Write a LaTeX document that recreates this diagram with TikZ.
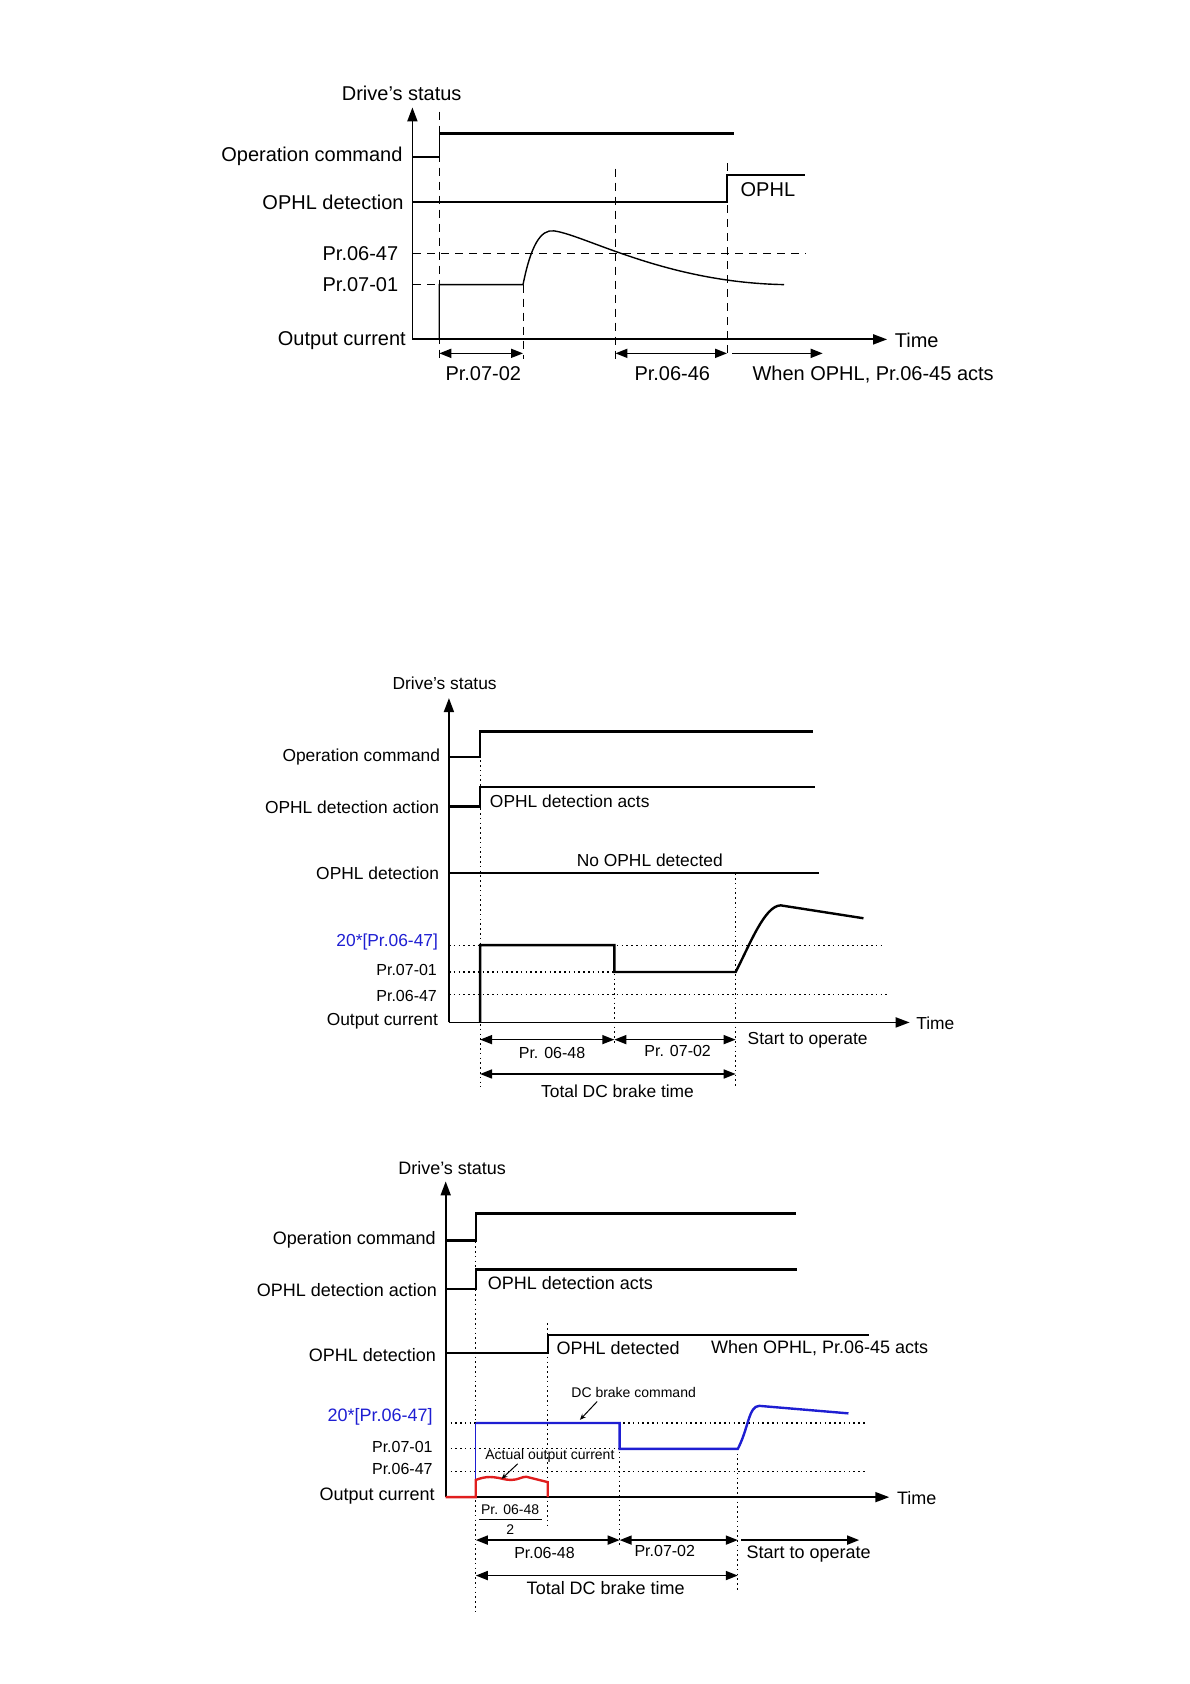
\documentclass[tikz,border=0pt]{standalone}
\usepackage{fontspec}
\setmainfont{Liberation Sans}
\usetikzlibrary{arrows.meta}
\definecolor{ophlBlue}{HTML}{1E1ED2}
\definecolor{ophlRed}{HTML}{E01E1E}

\begin{document}
\begin{tikzpicture}[
    x=0.5373pt, y=-0.5373pt,
    font=\fontsize{10}{12}\selectfont,
    axis/.style={line width=0.9pt, -{Triangle[length=7pt,width=5pt]}},
    lvl/.style={line width=0.7pt},
    sig/.style={line width=1.2pt},
    dashguide/.style={line width=0.5pt, dash pattern=on 4pt off 3pt},
    dotguide/.style={line width=0.5pt, dash pattern=on 0.8pt off 1.6pt},
    span/.style={line width=0.8pt, {Triangle[length=6pt,width=4.5pt]}-{Triangle[length=6pt,width=4.5pt]}},
    fwd/.style={line width=0.8pt, -{Triangle[length=6pt,width=4.5pt]}},
    lead/.style={line width=0.5pt, -{Stealth[length=3pt,width=2.5pt]}},
    lbl/.style={anchor=east, inner sep=1pt},
    txt/.style={inner sep=1pt},
    small/.style={font=\fontsize{8}{9.6}\selectfont},
    tiny/.style={font=\fontsize{7}{8.4}\selectfont},
  ]
  \useasboundingbox (0,0) rectangle (1108,1568);

  % ---------- chart 1 ----------
  \node[txt] (st1) at (374,87) {Drive’s status};
  \draw[axis] (384,316) -- (384,100);
  \draw[axis] (384,316) -- (826,316);
  \node[txt, anchor=west] (time1) at (831,317) {Time};
  \node[lbl] (cmd1) at (377,146) {Operation command};
  \node[lbl] (det1) at (378,188) {OPHL detection};
  \node[lbl] (p647a) at (373,236) {Pr.06-47};
  \node[lbl] (p701a) at (373,265) {Pr.07-01};
  \node[lbl] (out1) at (380,317) {Output current};
  \draw[dashguide] (409,104) -- (409,334);
  \draw[dashguide] (487,265) -- (487,334);
  \draw[dashguide] (573,157) -- (573,334);
  \draw[dashguide] (677,152) -- (677,334);
  \draw[dashguide] (385,236) -- (750,236);
  \draw[dashguide] (385,265) -- (409,265);
  \draw[lvl] (384,146) -- (409,146) -- (409,124);
  \draw[line width=1.4pt] (409,124) -- (683,124);
  \draw[lvl] (384,188) -- (677,188) -- (677,163) -- (750,163);
  \node[txt] (ophl1) at (715,177) {OPHL};
  \draw[lvl] (409,316) -- (409,265) -- (487,265)
    .. controls (494,230) and (503,213) .. (516,215)
    .. controls (545,219) and (620,263) .. (730,265);
  \coordinate (a1) at (409,329);
  \coordinate (a2) at (487,329);
  \coordinate (a3) at (573,329);
  \coordinate (a4) at (677,329);
  \coordinate (a5) at (682,329);
  \coordinate (a6) at (766,329);
  \draw[span] (a1) -- (a2);
  \draw[span] (a3) -- (a4);
  \draw[fwd] (a5) -- (a6);
  \node[txt] (d1) at (450,348) {Pr.07-02};
  \node[txt] (d2) at (626,348) {Pr.06-46};
  \node[txt] (d3) at (813,349) {When OPHL, Pr.06-45 acts};

  % ---------- chart 2 ----------
  \begin{scope}[font=\fontsize{8.7}{10.4}\selectfont]
  \node[txt] (st2) at (414,636) {Drive’s status};
  \draw[axis] (418,952) -- (418,650);
  \draw[axis] (418,952) -- (847,952);
  \node[txt, anchor=west] (time2) at (851,953) {Time};
  \node[lbl] (cmd2) at (412,705) {Operation command};
  \node[lbl] (act2) at (411,752) {OPHL detection action};
  \node[lbl] (det2) at (411,813) {OPHL detection};
  \node[lbl, text=ophlBlue] (k2) at (410,877) {20*[Pr.06-47]};
  \node[lbl, small] (p701b) at (409,903) {Pr.07-01};
  \node[lbl, small] (p647b) at (409,927) {Pr.06-47};
  \node[lbl] (out2) at (410,951) {Output current};
  \draw[dotguide] (447,690) -- (447,1012);
  \draw[dotguide] (572,880) -- (572,972);
  \draw[dotguide] (685,813) -- (685,1012);
  \draw[dotguide] (418,880) -- (823,880);
  \draw[dotguide, line width=0.9pt] (418,905) -- (572,905);
  \draw[dotguide] (418,926) -- (826,926);
  \draw[sig] (418,705) -- (447,705) -- (447,681) -- (757,681);
  \draw[sig] (418,751) -- (447,751) -- (447,733) -- (759,733);
  \draw[sig] (418,813) -- (763,813);
  \node[txt, anchor=west] (acts2) at (454,746) {OPHL detection acts};
  \node[txt] (none2) at (605,801) {No OPHL detected};
  \draw[sig] (447,952) -- (447,880) -- (572,880) -- (572,905) -- (685,905)
    .. controls (698,880) and (712,843) .. (727,843) -- (804,855);
  \coordinate (b1) at (447,968);
  \coordinate (b2) at (572,968);
  \coordinate (b3) at (685,968);
  \coordinate (b4) at (447,1000);
  \coordinate (b5) at (685,1000);
  \draw[span] (b1) -- (b2);
  \draw[span] (b2) -- (b3);
  \draw[span] (b4) -- (b5);
  \node[txt, small] (e1) at (514,980) {Pr. 06-48};
  \node[txt, small] (e2) at (631,979) {Pr. 07-02};
  \node[txt, anchor=west] (go2) at (694,969) {Start to operate};
  \node[txt] (tot2) at (575,1016) {Total DC brake time};
  \end{scope}

  % ---------- chart 3 ----------
  \begin{scope}[font=\fontsize{9}{10.8}\selectfont]
  \node[txt] (st3) at (421,1088) {Drive’s status};
  \draw[axis] (415,1394) -- (415,1100);
  \draw[axis] (415,1394) -- (828,1394);
  \node[txt, anchor=west] (time3) at (833,1395) {Time};
  \node[lbl] (cmd3) at (408,1154) {Operation command};
  \node[lbl] (act3) at (409,1201) {OPHL detection action};
  \node[lbl] (det3) at (408,1262) {OPHL detection};
  \node[lbl, text=ophlBlue] (k3) at (405,1319) {20*[Pr.06-47]};
  \node[lbl, small] (p701c) at (405,1347) {Pr.07-01};
  \node[lbl, small] (p647c) at (405,1368) {Pr.06-47};
  \node[lbl] (out3) at (407,1393) {Output current};
  \draw[dotguide] (443,1138) -- (443,1500);
  \draw[dotguide] (510,1232) -- (510,1420);
  \draw[dotguide] (577,1325) -- (577,1440);
  \draw[dotguide] (687,1349) -- (687,1480);
  \draw[dotguide, line width=0.9pt] (415,1325) -- (805,1325);
  \draw[dotguide] (415,1349) -- (582,1349);
  \draw[dotguide] (415,1370) -- (808,1370);
  \draw[sig] (415,1155) -- (443,1155) -- (443,1130) -- (741,1130);
  \draw[sig] (415,1200) -- (443,1200) -- (443,1182) -- (742,1182);
  \draw[sig] (415,1260) -- (510,1260) -- (510,1243) -- (809,1243);
  \node[txt, anchor=west] (acts3) at (452,1195) {OPHL detection acts};
  \node[txt, anchor=west] (seen3) at (516,1255) {OPHL detected};
  \node[txt, anchor=west] (when3) at (660,1255) {When OPHL, Pr.06-45 acts};
  \draw[line width=0.7pt, ophlBlue] (443,1378) -- (443,1325);
  \draw[sig, ophlBlue] (443,1325) -- (577,1325) -- (577,1349) -- (687,1349)
    .. controls (697,1330) and (697,1309) .. (707,1309) -- (790,1316);
  \draw[sig, ophlRed] (415,1394) -- (443,1394) -- (443,1378)
    .. controls (451,1375) and (455,1375) .. (460,1375.5)
    .. controls (466,1376) and (470,1378) .. (476,1378)
    .. controls (482,1378) and (486,1375) .. (490,1375)
    -- (510,1380) -- (510,1394);
  \node[txt, tiny] (dcb3) at (590,1297) {DC brake command};
  \coordinate (dcbEnd) at (540,1322);
  \draw[lead] (556,1305) -- (dcbEnd);
  \node[txt, tiny] (act3c) at (512,1356) {Actual output current};
  \coordinate (actEnd) at (467,1377);
  \draw[lead] (482,1363) -- (actEnd);
  \node[txt, tiny] (fnum) at (475,1406) {Pr. 06-48};
  \node[txt, tiny] (fden) at (475,1424) {2};
  \draw[line width=0.5pt] (446,1415) -- (505,1415);
  \coordinate (c1) at (443,1434);
  \coordinate (c2) at (577,1434);
  \coordinate (c3) at (687,1434);
  \coordinate (c4) at (690,1434);
  \coordinate (c5) at (800,1434);
  \coordinate (c6) at (443,1467);
  \coordinate (c7) at (687,1467);
  \draw[span] (c1) -- (c2);
  \draw[span] (c2) -- (c3);
  \draw[fwd] (c4) -- (c5);
  \draw[span] (c6) -- (c7);
  \node[txt, small] (f1) at (507,1446) {Pr.06-48};
  \node[txt, small] (f2) at (619,1444) {Pr.07-02};
  \node[txt] (go3) at (753,1447) {Start to operate};
  \node[txt] (tot3) at (564,1479) {Total DC brake time};
  \end{scope}
\end{tikzpicture}
\end{document}
